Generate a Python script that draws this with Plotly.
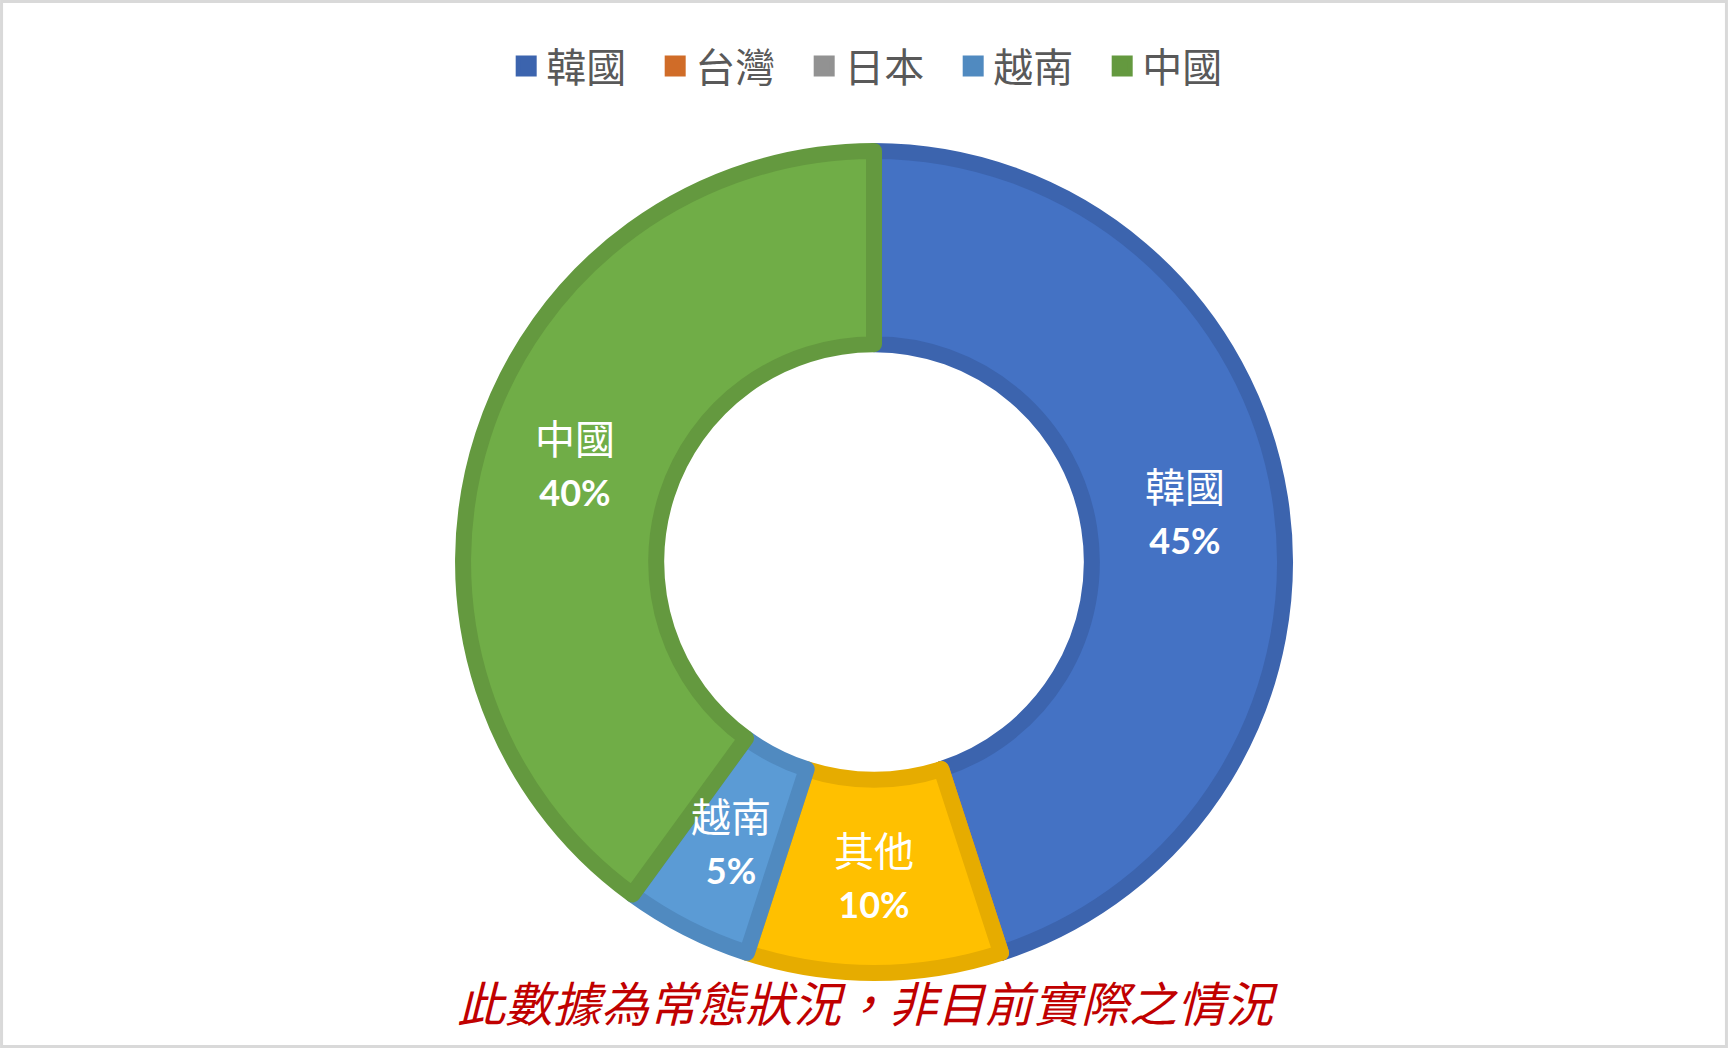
import math
import plotly.graph_objects as go

# dados do gráfico (ordem horária a partir das 12h)
categorias = ['韓國', '台灣', '日本', '其他', '越南', '中國']
valores = [45, 0, 0, 10, 5, 40]
cores = ['#4472C4', '#ED7D31', '#A5A5A5', '#FFC000', '#5B9BD5', '#70AD47']
bordas = ['#3C64AE', '#D06C28', '#929292', '#E6AC00', '#508AC0', '#64993F']

# legenda do Excel não mostra "其他"
legenda = ['韓國', '台灣', '日本', '越南', '中國']
nota = '此數據為常態狀況，非目前實際之情況'

FONTE = "Lato, 'Noto Sans CJK TC', sans-serif"
W, H = 1728, 1048
DOM_X, DOM_Y = [0.2679, 0.7437], [0.0716, 0.8559]
BURACO = 0.53

fig = go.Figure()
fig.add_trace(go.Pie(
    labels=categorias, values=valores, sort=False, direction='clockwise', rotation=0,
    hole=BURACO, showlegend=False, textinfo='none', hoverinfo='label+percent',
    marker=dict(colors=cores, line=dict(color=bordas, width=16)),
    domain=dict(x=DOM_X, y=DOM_Y),
))

# rótulos no meio do anel (ângulo médio de cada fatia)
total = sum(valores)
raio = (DOM_X[1] - DOM_X[0]) * W / 2
cx, cy = sum(DOM_X) / 2, sum(DOM_Y) / 2
r_txt = raio * (1 + BURACO) / 2
acum = 0
for nome, v in zip(categorias, valores):
    if v > 0:
        ang = 2 * math.pi * (acum + v / 2) / total
        fig.add_annotation(
            text=f"{nome}<br><b><span style='font-size:36px'>{v / total:.0%}</span></b>",
            x=cx + r_txt * math.sin(ang) / W, y=cy + r_txt * math.cos(ang) / H,
            xref='paper', yref='paper', xanchor='center', yanchor='middle', showarrow=False,
            font=dict(family=FONTE, size=40, color='white'))
    acum += v

# entradas de legenda
for nome in legenda:
    i = categorias.index(nome)
    fig.add_trace(go.Scatter(
        x=[None], y=[None], mode='markers', name=nome,
        marker=dict(symbol='square', size=16, color=bordas[i], line=dict(color=bordas[i], width=5)),
    ))

fig.add_annotation(
    text=f'<i>{nota}</i>', x=0.502, y=0.042, xref='paper', yref='paper',
    xanchor='center', yanchor='middle', showarrow=False,
    font=dict(family=FONTE, size=48, color='#C00000'))

fig.add_shape(type='rect', xref='paper', yref='paper', x0=0.0009, x1=0.9991, y0=0.0014, y1=0.9986,
              line=dict(color='#D9D9D9', width=3))

fig.update_xaxes(visible=False)
fig.update_yaxes(visible=False)
fig.update_layout(
    width=W, height=H, margin=dict(l=0, r=0, t=0, b=0),
    paper_bgcolor='white', plot_bgcolor='white',
    font=dict(family=FONTE, color='#595959'),
    legend=dict(orientation='h', x=0.5085, xanchor='center', y=0.937, yanchor='middle',
                font=dict(size=40, color='#595959'), itemsizing='trace',
                entrywidth=104, bgcolor='rgba(0,0,0,0)'),
)

fig.write_html('out.html', config={'displayModeBar': False},
               post_script="document.body.style.margin='0';")
